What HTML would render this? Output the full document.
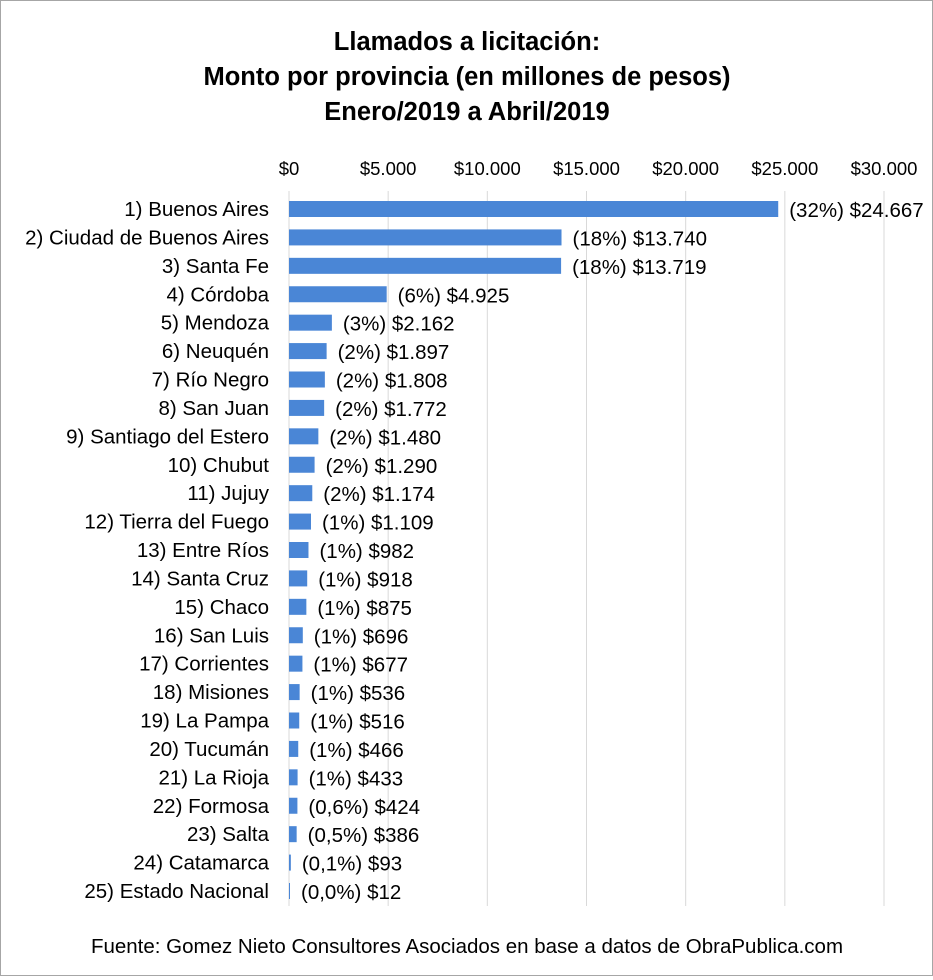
<!DOCTYPE html>
<html><head><meta charset="utf-8">
<style>
html,body{margin:0;padding:0;background:#fff;}
#wrap{position:relative;width:931px;height:974px;border:1px solid #a6a6a6;background:#fff;font-family:"Liberation Sans",sans-serif;}
</style></head>
<body>
<div id="wrap">
<svg id="chart" width="931" height="974" xmlns="http://www.w3.org/2000/svg">
<text x="466" y="49" text-anchor="middle" font-size="25.5" font-weight="bold" fill="#000">Llamados a licitación:</text>
<text x="466" y="84" text-anchor="middle" font-size="25.5" font-weight="bold" fill="#000">Monto por provincia (en millones de pesos)</text>
<text x="466" y="119" text-anchor="middle" font-size="25.5" font-weight="bold" fill="#000">Enero/2019 a Abril/2019</text>
<g id="grid"></g>
<g id="bars"></g>
<text x="466" y="952" text-anchor="middle" font-size="20.5" fill="#000">Fuente: Gomez Nieto Consultores Asociados en base a datos de ObraPublica.com</text>
</svg>
</div>
<script>
const categories=["1) Buenos Aires","2) Ciudad de Buenos Aires","3) Santa Fe","4) Córdoba","5) Mendoza","6) Neuquén","7) Río Negro","8) San Juan","9) Santiago del Estero","10) Chubut","11) Jujuy","12) Tierra del Fuego","13) Entre Ríos","14) Santa Cruz","15) Chaco","16) San Luis","17) Corrientes","18) Misiones","19) La Pampa","20) Tucumán","21) La Rioja","22) Formosa","23) Salta","24) Catamarca","25) Estado Nacional"];
const values=[24667,13740,13719,4925,2162,1897,1808,1772,1480,1290,1174,1109,982,918,875,696,677,536,516,466,433,424,386,93,12];
const shares=["32%","18%","18%","6%","3%","2%","2%","2%","2%","2%","2%","1%","1%","1%","1%","1%","1%","1%","1%","1%","1%","0,6%","0,5%","0,1%","0,0%"];
const tickValues=[0,5000,10000,15000,20000,25000,30000];
const tickLabels=["$0","$5.000","$10.000","$15.000","$20.000","$25.000","$30.000"];

const NS="http://www.w3.org/2000/svg";
const x0=288,x1=883,xMax=30000,yFirst=208,yLast=890,gTop=190,gBot=905;
const xScale=v=>x0+(v/xMax)*(x1-x0);
const step=(yLast-yFirst)/(categories.length-1);
const yScale=i=>yFirst+i*step;
const fmt=v=>"$"+v.toString().replace(/\B(?=(\d{3})+(?!\d))/g,".");
function mk(tag,attrs,parent){const e=document.createElementNS(NS,tag);for(const k in attrs)e.setAttribute(k,attrs[k]);parent.appendChild(e);return e;}
const grid=document.getElementById('grid'),bars=document.getElementById('bars');
tickValues.forEach((t,i)=>{
  const x=xScale(t);
  const l=mk('line',{x1:x,x2:x,y1:gTop,y2:gBot,stroke:'#d9d9d9','stroke-width':1},grid);
  
  
  const tx=mk('text',{x:x,y:174,'text-anchor':'middle','font-size':18.5,fill:'#000'},grid);
  tx.textContent=tickLabels[i];
  
  
});
const ax=mk('line',{x1:x0,x2:x0,y1:gTop,y2:gBot,stroke:'#d9d9d9','stroke-width':1},grid);


categories.forEach((c,i)=>{
  const y=yScale(i);
  const lab=mk('text',{x:268,y:y+7,'text-anchor':'end','font-size':20.5,fill:'#000'},bars);
  lab.textContent=c;
  
  
  const w=Math.max(xScale(values[i])-x0,1);
  const r=mk('rect',{x:x0,y:y-8,width:w,height:16,fill:'#4a86d6'},bars);
  
  
  const v=mk('text',{x:x0+w+11,y:y+8,'font-size':20.5,fill:'#000'},bars);
  v.textContent="("+shares[i]+") "+fmt(values[i]);
  
  
});
</script>
</body></html>
